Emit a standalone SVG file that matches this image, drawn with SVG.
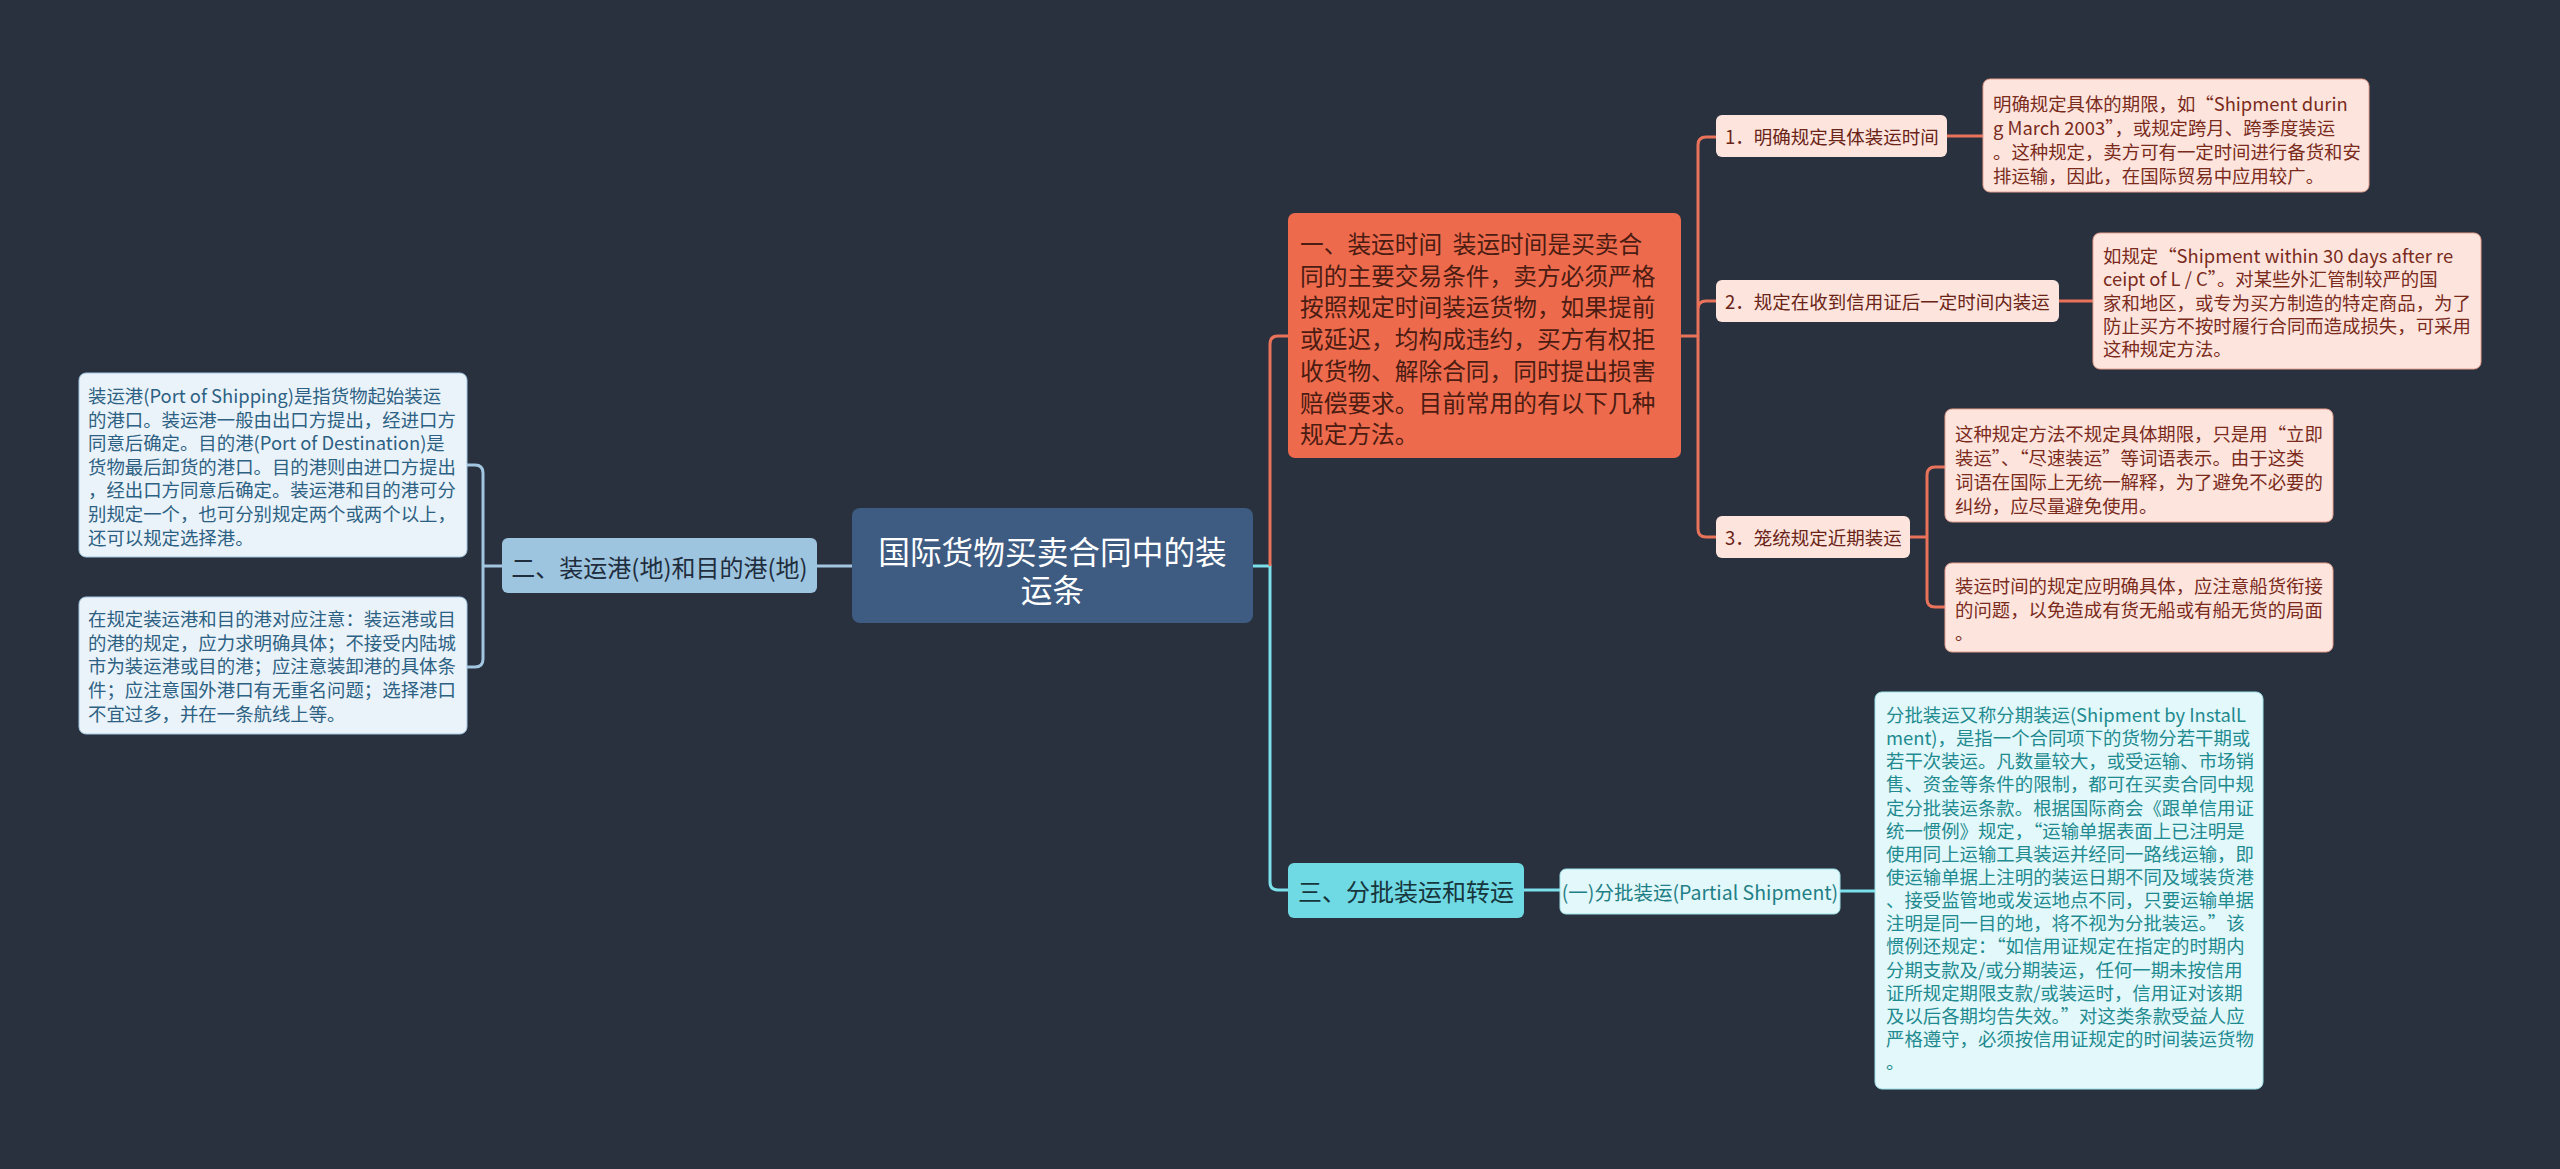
<svg xmlns="http://www.w3.org/2000/svg" width="2560" height="1169" viewBox="0 0 2560 1169">
<style>
text{font-family:"Noto Sans CJK SC","Noto Sans",sans-serif;dominant-baseline:central}
.c-blue{fill:none;stroke:#a3c6e0;stroke-width:3}
.c-org{fill:none;stroke:#e8735a;stroke-width:3}
.c-cyan{fill:none;stroke:#7ce0ec;stroke-width:3}
.leftbox{fill:#eaf3f9;stroke:#a3c6e0;stroke-width:1}
.lefttxt{fill:#2d6183;font-size:18.4px}
.pinkbox{fill:#fde5de;stroke:#e8a090;stroke-width:1}
.pinktxt{fill:#7a2b1c;font-size:18.4px}
.cyanbox{fill:#e2f8fa;stroke:#9fe3ea;stroke-width:1}
.cyantxt{fill:#1f8a90;font-size:18.4px}
</style>
<rect x="0" y="0" width="2560" height="1169" fill="#29313e"/>

<g id="connectors">
  <path class="c-blue" d="M467,465 H475 Q483,465 483,473 V659 Q483,667 475,667 H467 M483,566 H502 M817,566 H852"/>
  <path class="c-cyan" d="M1253,566 H1270 V882 Q1270,890 1278,890 H1288"/>
  <path class="c-org" d="M1270,566 V344 Q1270,336 1278,336 H1288"/>
  <path class="c-org" d="M1681,336 H1698 M1698,336 V145 Q1698,137 1706,137 H1716 M1698,336 V309 Q1698,301 1706,301 H1716 M1698,336 V529 Q1698,537 1706,537 H1716"/>
  <path class="c-org" d="M1947,136 H1983 M2059,301 H2093 M1910,537 H1927 M1927,537 V475 Q1927,467 1935,467 H1945 M1927,537 V599 Q1927,607 1935,607 H1945"/>
  <path class="c-cyan" d="M1524,890 H1560 M1840,891 H1875"/>
</g>

<g id="root">
  <rect x="852" y="508" width="401" height="115" rx="8" fill="#3e5b82"/>
  <text text-anchor="middle" fill="#ffffff" font-size="31.7"><tspan x="1052.5" y="550">国际货物买卖合同中的装</tspan><tspan x="1052.5" y="588">运条</tspan></text>
</g>

<g id="n2">
  <rect x="502" y="538" width="315" height="55" rx="6" fill="#9ec5e0"/>
  <text x="659.5" y="566" text-anchor="middle" fill="#1f2d3d" font-size="24">二、装运港(地)和目的港(地)</text>
</g>

<g id="n2a">
  <rect class="leftbox" x="79" y="373" width="388" height="184" rx="7"/>
  <text class="lefttxt"><tspan x="88" y="395">装运港(Port of Shipping)是指货物起始装运</tspan><tspan x="88" y="418.6">的港口。装运港一般由出口方提出，经进口方</tspan><tspan x="88" y="442.2">同意后确定。目的港(Port of Destination)是</tspan><tspan x="88" y="465.8">货物最后卸货的港口。目的港则由进口方提出</tspan><tspan x="88" y="489.4">，经出口方同意后确定。装运港和目的港可分</tspan><tspan x="88" y="513">别规定一个，也可分别规定两个或两个以上，</tspan><tspan x="88" y="536.6">还可以规定选择港。</tspan></text>
</g>

<g id="n2b">
  <rect class="leftbox" x="79" y="597" width="388" height="137" rx="7"/>
  <text class="lefttxt"><tspan x="88" y="618">在规定装运港和目的港对应注意：装运港或目</tspan><tspan x="88" y="641.7">的港的规定，应力求明确具体；不接受内陆城</tspan><tspan x="88" y="665.4">市为装运港或目的港；应注意装卸港的具体条</tspan><tspan x="88" y="689.1">件；应注意国外港口有无重名问题；选择港口</tspan><tspan x="88" y="712.8">不宜过多，并在一条航线上等。</tspan></text>
</g>

<g id="n1">
  <rect x="1288" y="213" width="393" height="245" rx="7" fill="#ee6a4c"/>
  <text fill="#4a1c12" font-size="23.7"><tspan x="1300" y="243">一、装运时间&#160;&#160;装运时间是买卖合</tspan><tspan x="1300" y="274.7">同的主要交易条件，卖方必须严格</tspan><tspan x="1300" y="306.4">按照规定时间装运货物，如果提前</tspan><tspan x="1300" y="338.1">或延迟，均构成违约，买方有权拒</tspan><tspan x="1300" y="369.8">收货物、解除合同，同时提出损害</tspan><tspan x="1300" y="401.5">赔偿要求。目前常用的有以下几种</tspan><tspan x="1300" y="433.2">规定方法。</tspan></text>
</g>

<g id="n1-1">
  <rect x="1716" y="115" width="231" height="42" rx="6" fill="#fde5de"/>
  <text x="1725" y="136" fill="#6a2417" font-size="18.5">1．明确规定具体装运时间</text>
</g>
<g id="n1-1a">
  <rect class="pinkbox" x="1983" y="79" width="386" height="113" rx="7"/>
  <text class="pinktxt"><tspan x="1993" y="103">明确规定具体的期限，如“Shipment durin</tspan><tspan x="1993" y="127">g March 2003”，或规定跨月、跨季度装运</tspan><tspan x="1993" y="151">。这种规定，卖方可有一定时间进行备货和安</tspan><tspan x="1993" y="175">排运输，因此，在国际贸易中应用较广。</tspan></text>
</g>

<g id="n1-2">
  <rect x="1716" y="280" width="343" height="42" rx="6" fill="#fde5de"/>
  <text x="1725" y="301" fill="#6a2417" font-size="18.5">2．规定在收到信用证后一定时间内装运</text>
</g>
<g id="n1-2a">
  <rect class="pinkbox" x="2093" y="233" width="388" height="136" rx="7"/>
  <text class="pinktxt"><tspan x="2103" y="255">如规定“Shipment within 30 days after re</tspan><tspan x="2103" y="278.3">ceipt of L / C”。对某些外汇管制较严的国</tspan><tspan x="2103" y="301.6">家和地区，或专为买方制造的特定商品，为了</tspan><tspan x="2103" y="324.9">防止买方不按时履行合同而造成损失，可采用</tspan><tspan x="2103" y="348.2">这种规定方法。</tspan></text>
</g>

<g id="n1-3">
  <rect x="1716" y="516" width="194" height="42" rx="6" fill="#fde5de"/>
  <text x="1725" y="537" fill="#6a2417" font-size="18.5">3．笼统规定近期装运</text>
</g>
<g id="n1-3a">
  <rect class="pinkbox" x="1945" y="409" width="388" height="113" rx="7"/>
  <text class="pinktxt"><tspan x="1955" y="433">这种规定方法不规定具体期限，只是用“立即</tspan><tspan x="1955" y="457">装运”、“尽速装运”等词语表示。由于这类</tspan><tspan x="1955" y="481">词语在国际上无统一解释，为了避免不必要的</tspan><tspan x="1955" y="505">纠纷，应尽量避免使用。</tspan></text>
</g>
<g id="n1-3b">
  <rect class="pinkbox" x="1945" y="563" width="388" height="89" rx="7"/>
  <text class="pinktxt"><tspan x="1955" y="585">装运时间的规定应明确具体，应注意船货衔接</tspan><tspan x="1955" y="608.5">的问题，以免造成有货无船或有船无货的局面</tspan><tspan x="1955" y="632">。</tspan></text>
</g>

<g id="n3">
  <rect x="1288" y="863" width="236" height="55" rx="6" fill="#6fd9e4"/>
  <text x="1406" y="890" text-anchor="middle" fill="#17363c" font-size="24">三、分批装运和转运</text>
</g>
<g id="n3-1">
  <rect class="cyanbox" x="1560" y="869" width="280" height="45" rx="6"/>
  <text x="1700" y="891" text-anchor="middle" fill="#1f7f86" font-size="19.5">(一)分批装运(Partial Shipment)</text>
</g>
<g id="n3-1a">
  <rect class="cyanbox" x="1875" y="692" width="388" height="397" rx="7"/>
  <text class="cyantxt"><tspan x="1886" y="714">分批装运又称分期装运(Shipment by InstalL</tspan><tspan x="1886" y="737.1">ment)，是指一个合同项下的货物分若干期或</tspan><tspan x="1886" y="760.3">若干次装运。凡数量较大，或受运输、市场销</tspan><tspan x="1886" y="783.4">售、资金等条件的限制，都可在买卖合同中规</tspan><tspan x="1886" y="806.6">定分批装运条款。根据国际商会《跟单信用证</tspan><tspan x="1886" y="829.7">统一惯例》规定，“运输单据表面上已注明是</tspan><tspan x="1886" y="852.8">使用同上运输工具装运并经同一路线运输，即</tspan><tspan x="1886" y="876">使运输单据上注明的装运日期不同及域装货港</tspan><tspan x="1886" y="899.1">、接受监管地或发运地点不同，只要运输单据</tspan><tspan x="1886" y="922.3">注明是同一目的地，将不视为分批装运。”该</tspan><tspan x="1886" y="945.4">惯例还规定：“如信用证规定在指定的时期内</tspan><tspan x="1886" y="968.5">分期支款及/或分期装运，任何一期未按信用</tspan><tspan x="1886" y="991.7">证所规定期限支款/或装运时，信用证对该期</tspan><tspan x="1886" y="1014.8">及以后各期均告失效。”对这类条款受益人应</tspan><tspan x="1886" y="1038">严格遵守，必须按信用证规定的时间装运货物</tspan><tspan x="1886" y="1061">。</tspan></text>
</g>
</svg>
